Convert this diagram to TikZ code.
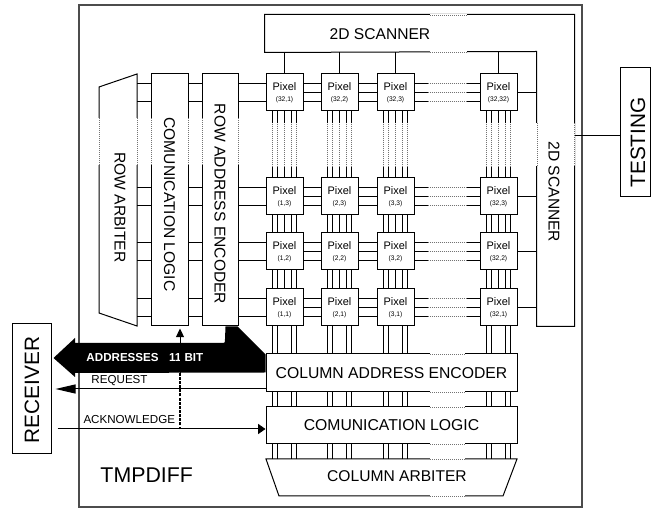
\documentclass[tikz,border=0pt]{standalone}
\usepackage{fontspec}
\setmainfont{Liberation Sans}
\usetikzlibrary{arrows.meta,calc}
\begin{document}
\begin{tikzpicture}[x=0.75pt,y=-0.75pt,line width=0.75pt,
  pix/.style={draw, fill=white, minimum width=27.75pt, minimum height=27.75pt, inner sep=0pt, align=center, font=\fontsize{8.2}{8}\selectfont},
  vbox/.style={draw, minimum width=27.75pt, minimum height=189pt, inner sep=0pt},
  hbox/.style={draw, minimum width=188.25pt, minimum height=28.5pt, inner sep=0pt, font=\fontsize{11.8}{12}\selectfont},
  lbl/.style={inner sep=0pt, font=\fontsize{11.7}{12}\selectfont},
  biglbl/.style={inner sep=0pt, font=\fontsize{15.6}{16}\selectfont},
  small/.style={inner sep=0pt, anchor=west, font=\fontsize{8.7}{9}\selectfont},
  dotseg/.style={dash pattern=on 0.75pt off 0.75pt, line width=0.6pt, black!55},
  wipe/.style={white, line width=1.8pt},
]
\useasboundingbox (0,0) rectangle (651,509);

% chip outline
\node[draw=black!70, line width=1.3pt, minimum width=377.25pt, minimum height=376.5pt, inner sep=0pt] (chip) at (330.5,256) {};
\node[inner sep=0pt, anchor=west, font=\fontsize{16}{17}\selectfont] (tmp) at (100,475) {TMPDIFF};

% testing and receiver
\node[draw, minimum width=22.5pt, minimum height=96.75pt, inner sep=0pt] (test) at (635,132.5) {};
\node[biglbl, rotate=90] (testt) at (638,142.5) {TESTING};
\node[draw, minimum width=29.25pt, minimum height=97.5pt, inner sep=0pt] (rcv) at (31.5,389) {};
\node[biglbl, rotate=90] (rcvt) at (32,390) {RECEIVER};

% scanners (L-shaped block)
\node[minimum width=231.75pt, minimum height=27.75pt, inner sep=0pt] (scanT) at (419.5,33.5) {};
\node[minimum width=27.75pt, minimum height=205.5pt, inner sep=0pt] (scanR) at (555.5,189) {};
\draw (scanT.north west) -- (scanT.north east) -- (scanR.south east) -- (scanR.south west) -- (scanR.north west) -- (scanT.south west) -- cycle;
\node[lbl] (scanTt) at (380,34) {2D SCANNER};
\node[lbl, rotate=-90] (scanRt) at (554,192) {2D SCANNER};
\foreach \yy in {15,52}{\draw[wipe] (430,\yy) -- (467,\yy); \draw[dotseg] (430,\yy) -- (467,\yy);}
\foreach \xx in {537,574}{\draw[wipe] (\xx,123) -- (\xx,166); \draw[dotseg] (\xx,123) -- (\xx,166);}
\draw ($(scanR.east)+(0,-53)$) -- ($(test.west)+(0,3.5)$);

% row side blocks
\coordinate (rarbE) at (137,200);
\draw (99,87) -- (137,74) -- (137,326) -- (99,313) -- cycle;
\node[lbl, rotate=-90] (rarbt) at (120,207.5) {ROW ARBITER};
\node[vbox] (rcl) at (169.5,200) {};
\node[lbl, rotate=-90] (rclt) at (169.5,204.5) {COMUNICATION LOGIC};
\node[vbox, minimum width=27pt] (rae) at (220,200) {};
\node[lbl, rotate=-90] (raet) at (220,204) {ROW ADDRESS ENCODER};
\foreach \xx in {99,137,151,188,202,238}{\draw[wipe] (\xx,118) -- (\xx,165); \draw[dotseg] (\xx,118) -- (\xx,165);}

% column side blocks
\node[hbox] (cae) at (391.5,373) {COLUMN ADDRESS ENCODER};
\node[hbox, minimum height=27.75pt] (ccl) at (391.5,425.5) {COMUNICATION LOGIC};
\coordinate (carbN) at (391.5,459);
\draw (266,459) -- (517,459) -- (503,496) -- (279,496) -- cycle;
\node[lbl] (carbt) at (397,476) {COLUMN ARBITER};
\foreach \yy in {354,392,407,444,459,496}{\draw[wipe] (430,\yy) -- (465,\yy); \draw[dotseg] (430,\yy) -- (465,\yy);}

% pixels
\foreach \c/\x/\cl in {1/284.5/1,2/339.5/2,3/395.5/3,4/498.5/32}{
  \foreach \r/\y/\rl in {1/307.5/1,2/251.5/2,3/196.5/3}{
    \node[pix] (p\c\r) at (\x,\y) {Pixel\\{\fontsize{5}{5}\selectfont(\cl,\rl)}};
  }
  \node[pix] (p\c4) at (\x,92.5) {Pixel\\{\fontsize{5}{5}\selectfont(32,\cl)}};
}

% horizontal links
\foreach \r in {1,2,3,4}{
  \foreach \o in {-9,0,9}{
    \draw ($(p1\r.east)+(0,\o)$) -- ($(p2\r.west)+(0,\o)$);
    \draw ($(p2\r.east)+(0,\o)$) -- ($(p3\r.west)+(0,\o)$);
    \draw ($(p3\r.east)+(0,\o)$) -- ($(p3\r.east)+(13,\o)$);
    \draw[dotseg] ($(p3\r.east)+(13,\o)$) -- ($(p4\r.west)+(-13,\o)$);
    \draw ($(p4\r.west)+(-13,\o)$) -- ($(p4\r.west)+(0,\o)$);
  }
  \foreach \o in {-9,9}{
    \draw ($(p1\r.west)+(0,\o)$) -- ($(rae.east |- p1\r.west)+(0,\o)$);
    \draw ($(rae.west |- p1\r.west)+(0,\o)$) -- ($(rcl.east |- p1\r.west)+(0,\o)$);
    \draw ($(rcl.west |- p1\r.west)+(0,\o)$) -- ($(rarbE |- p1\r.west)+(0,\o)$);
  }
  \draw (p4\r.east) -- (scanR.west |- p4\r.east);
}

% vertical links
\foreach \c in {1,2,3,4}{
  \draw (p\c4.north) -- (scanT.south -| p\c4.north);
  \foreach \o in {-12,-7,0,7,12}{
    \draw ($(p\c1.north)+(\o,0)$) -- ($(p\c2.south)+(\o,0)$);
    \draw ($(p\c2.north)+(\o,0)$) -- ($(p\c3.south)+(\o,0)$);
    \draw ($(p\c3.north)+(\o,0)$) -- ($(p\c3.north)+(\o,-10)$);
    \draw[dotseg] ($(p\c3.north)+(\o,-10)$) -- ($(p\c4.south)+(\o,12)$);
    \draw ($(p\c4.south)+(\o,12)$) -- ($(p\c4.south)+(\o,0)$);
  }
  \foreach \o in {-12,-7,7,12}{
    \draw ($(p\c1.south)+(\o,0)$) -- ($(cae.north -| p\c1.south)+(\o,0)$);
    \draw ($(cae.south -| p\c1.south)+(\o,0)$) -- ($(ccl.north -| p\c1.south)+(\o,0)$);
    \draw ($(ccl.south -| p\c1.south)+(\o,0)$) -- ($(carbN -| p\c1.south)+(\o,0)$);
  }
}

% address bus
\fill ($(rae.south east)+(-1,0)$) -- ($(cae.north west)+(0,1)$) -- ($(cae.north west)+(0,19)$) -- (75,373) -- (75,377) -- ($(rcv.east)+(2,-31)$) -- (75,338) -- (75,343) -- (221,343) .. controls (225,343) .. (225,339) -- ($(rae.south east)+(-13,0)$) -- cycle;
\node[small, text=white, font=\bfseries\fontsize{8.7}{9}\selectfont] (addr) at (86,358) {ADDRESSES\hspace{0.9em}11 BIT};

% request
\draw[-{Triangle[length=15pt,width=6.75pt]}] ($(cae.west)+(0,16)$) -- ($(rcv.east |- cae.west)+(4,16)$);
\node[small] (req) at (91,381) {REQUEST};

% acknowledge
\draw[-{Triangle[length=5.5pt,width=7.5pt]}] ($(rcv.east)+(6,40)$) -- ($(ccl.west |- rcv.east)+(0,40)$);
\node[small] (ack) at (83,420) {ACKNOWLEDGE};
\draw[line width=0.9pt, dash pattern=on 2.2pt off 0.9pt] ($(rcl.south)+(10.5,103)$) -- ($(rcl.south)+(10.5,47)$);
\draw[-{Triangle[length=6.5pt,width=6pt]}] ($(rcl.south)+(10.5,47)$) -- ($(rcl.south)+(10.5,2)$);
\end{tikzpicture}
\end{document}
